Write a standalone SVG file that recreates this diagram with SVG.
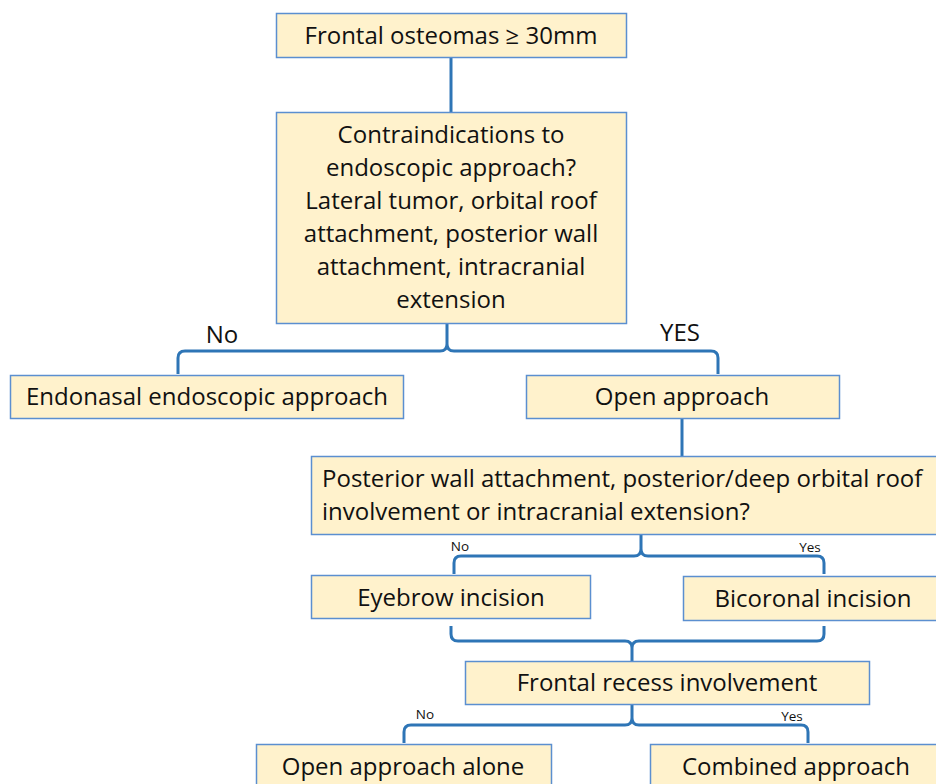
<svg xmlns="http://www.w3.org/2000/svg" width="936" height="784" viewBox="0 0 936 784">
<style>
.box{fill:#FFF2CC;stroke:#5B8FD0;stroke-width:1.5}
.t{font-family:"Open Sans","Liberation Sans",Arial,sans-serif;font-size:24px;fill:#111}
.c{text-anchor:middle}
.s{font-family:"Open Sans","Liberation Sans",Arial,sans-serif;font-size:13.5px;fill:#111;text-anchor:middle}
.ln{fill:none;stroke:#2E75B6;stroke-width:3;stroke-linejoin:round}
</style>
<rect width="936" height="784" fill="#fff"/>
<g id="connectors">
<path class="ln" d="M451,57 L451,112"/>
<path class="ln" d="M447,323 L447,344 M178,374 L178,358 Q178,351 185,351 L440,351 Q447,351 447,344 Q447,351 454,351 L711,351 Q718,351 718,358 L718,374"/>
<path class="ln" d="M682,419 L682,456"/>
<path class="ln" d="M641,534 L641,549 M454,574 L454,563 Q454,556 461,556 L634,556 Q641,556 641,549 Q641,556 648,556 L817,556 Q824,556 824,563 L824,574"/>
<path class="ln" d="M632,648 L632,661 M451,626 L451,634 Q451,641 458,641 L625,641 Q632,641 632,648 Q632,641 639,641 L817,641 Q824,641 824,634 L824,626"/>
<path class="ln" d="M632,704 L632,718 M404,743 L404,732 Q404,725 411,725 L625,725 Q632,725 632,718 Q632,725 639,725 L801,725 Q808,725 808,732 L808,743"/>
<text class="t c" x="222" y="343">No</text>
<text class="t c" x="680" y="341">YES</text>
<text class="s" x="460" y="551">No</text>
<text class="s" x="810" y="552">Yes</text>
<text class="s" x="425" y="719">No</text>
<text class="s" x="792" y="721">Yes</text>
</g>
<g id="n1"><rect class="box" x="276.5" y="13.5" width="350" height="44"/><text class="t c" x="451" y="44">Frontal osteomas ≥ 30mm</text></g>
<g id="n2"><rect class="box" x="276.5" y="112.5" width="350" height="211"/>
<text class="t c" x="451" y="143">Contraindications to</text>
<text class="t c" x="451" y="176">endoscopic approach?</text>
<text class="t c" x="451" y="209">Lateral tumor, orbital roof</text>
<text class="t c" x="451" y="242">attachment, posterior wall</text>
<text class="t c" x="451" y="275">attachment, intracranial</text>
<text class="t c" x="451" y="308">extension</text></g>
<g id="n3"><rect class="box" x="10.5" y="375.5" width="393" height="43"/><text class="t c" x="207" y="405">Endonasal endoscopic approach</text></g>
<g id="n4"><rect class="box" x="526.5" y="375.5" width="313" height="43"/><text class="t c" x="682" y="405">Open approach</text></g>
<g id="n5"><rect class="box" x="311.5" y="456.5" width="630" height="78"/>
<text class="t" x="322" y="487">Posterior wall attachment, posterior/deep orbital roof</text>
<text class="t" x="322" y="520">involvement or intracranial extension?</text></g>
<g id="n6"><rect class="box" x="311.5" y="575.5" width="279" height="43"/><text class="t c" x="451" y="606">Eyebrow incision</text></g>
<g id="n7"><rect class="box" x="683.5" y="576.5" width="258" height="44"/><text class="t c" x="813" y="607">Bicoronal incision</text></g>
<g id="n8"><rect class="box" x="465.5" y="661.5" width="404" height="43"/><text class="t c" x="667" y="691">Frontal recess involvement</text></g>
<g id="n9"><rect class="box" x="256.5" y="744.5" width="295" height="50"/><text class="t c" x="403" y="775">Open approach alone</text></g>
<g id="n10"><rect class="box" x="650.5" y="744.5" width="295" height="50"/><text class="t c" x="796" y="775">Combined approach</text></g>
</svg>
